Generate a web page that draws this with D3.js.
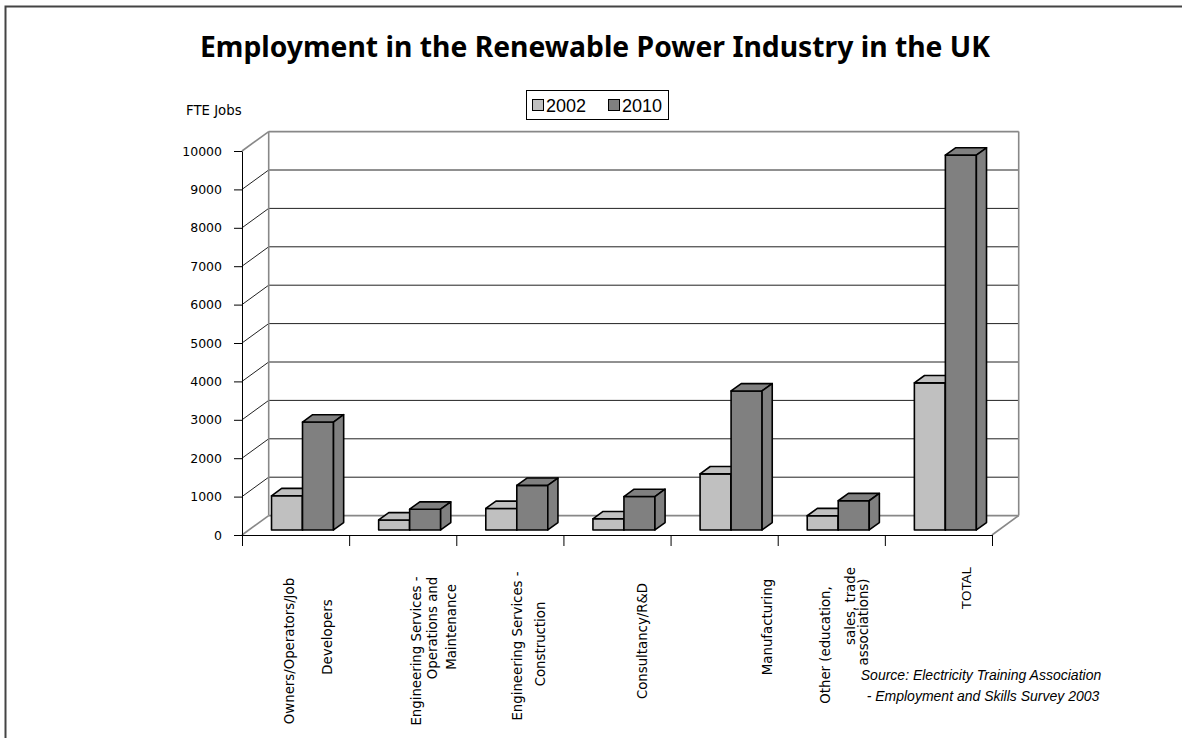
<!DOCTYPE html>
<html>
<head>
<meta charset="utf-8">
<script src="https://cdn.jsdelivr.net/npm/d3@7"></script>
<style>
  body { margin: 0; background: #fff; }
  svg { display: block; }
</style>
</head>
<body>
<svg id="chart" width="1182" height="738"></svg>
<script>
// categories (line breaks as in the original axis labels)
var categories = [
    "Owners/Operators/Job\nDevelopers",
    "Engineering Services -\nOperations and\nMaintenance",
    "Engineering Services -\nConstruction",
    "Consultancy/R&D",
    "Manufacturing",
    "Other (education,\nsales, trade\nassociations)",
    "TOTAL"
];
var seriesNames = ["2002", "2010"];
var jobs2002 = [890, 260, 560, 290, 1460, 370, 3830];
var jobs2010 = [2810, 540, 1160, 870, 3620, 760, 9760];
var yTicks = [0, 1000, 2000, 3000, 4000, 5000, 6000, 7000, 8000, 9000, 10000];

var colors = { "2002": "#c0c0c0", "2010": "#808080" };

(function drawChart() {
    var svg = d3.select("#chart");

    // plot geometry (front plane) and 3d depth offset
    var pLeft = 242, pRight = 992, pTop = 151, pBottom = 535;
    var DX = 26.7, DY = 19.4;
    var f0 = 0.26, f1 = 0.64;   // bar depth, as fraction of the floor

    var x = d3.scaleBand().domain(categories).range([pLeft, pRight]).padding(0);
    var xs = d3.scaleBand().domain(seriesNames).range([0, x.bandwidth()]).paddingInner(0).paddingOuter(0.728);
    var y = d3.scaleLinear().domain([0, 10000]).range([pBottom, pTop]);

    // outer frame
    svg.append("rect")
        .attr("x", 5.5).attr("y", 6.5)
        .attr("width", 1200).attr("height", 760)
        .attr("fill", "none").attr("stroke", "#444").attr("stroke-width", 2);

    // title
    svg.append("text")
        .attr("x", 595).attr("y", 57)
        .attr("text-anchor", "middle")
        .style("font-family", "'Noto Sans', sans-serif")
        .style("font-weight", "bold")
        .style("font-size", "28.3px")
        .text("Employment in the Renewable Power Industry in the UK");

    // y axis title
    svg.append("text")
        .attr("x", 186).attr("y", 115)
        .style("font-family", "'DejaVu Sans', sans-serif")
        .style("font-size", "13.3px")
        .text("FTE Jobs");

    var isEdge = function(d, i) { return i == 0 || i == yTicks.length - 1; };

    // back wall gridlines + left wall diagonals
    var walls = svg.append("g").attr("class", "walls");
    walls.selectAll(".grid")
        .data(yTicks)
        .enter().append("line")
        .attr("class", "grid")
        .attr("x1", pLeft + DX).attr("x2", pRight + DX)
        .attr("y1", function(d) { return y(d) - DY; })
        .attr("y2", function(d) { return y(d) - DY; })
        .attr("stroke", function(d, i) { return isEdge(d, i) ? "#888" : "#222"; })
        .attr("stroke-width", function(d, i) { return isEdge(d, i) ? 1.6 : 1; });
    walls.selectAll(".diag")
        .data(yTicks)
        .enter().append("line")
        .attr("class", "diag")
        .attr("x1", pLeft).attr("x2", pLeft + DX)
        .attr("y1", function(d) { return y(d); })
        .attr("y2", function(d) { return y(d) - DY; })
        .attr("stroke", function(d, i) { return isEdge(d, i) ? "#888" : "#222"; })
        .attr("stroke-width", function(d, i) { return isEdge(d, i) ? 1.6 : 1; });
    // back wall sides and right floor edge
    walls.append("line")
        .attr("x1", pLeft + DX).attr("x2", pLeft + DX)
        .attr("y1", y(10000) - DY).attr("y2", y(0) - DY)
        .attr("stroke", "#888").attr("stroke-width", 1.6);
    walls.append("line")
        .attr("x1", pRight + DX).attr("x2", pRight + DX)
        .attr("y1", y(10000) - DY).attr("y2", y(0) - DY)
        .attr("stroke", "#888").attr("stroke-width", 1.6);
    walls.append("line")
        .attr("x1", pRight).attr("x2", pRight + DX)
        .attr("y1", y(0)).attr("y2", y(0) - DY)
        .attr("stroke", "#888").attr("stroke-width", 1.6);

    // bars
    var bars = [];
    categories.forEach(function(c, i) {
        bars.push({ cat: c, s: "2002", v: jobs2002[i] });
        bars.push({ cat: c, s: "2010", v: jobs2010[i] });
    });

    var ddx = (f1 - f0) * DX, ddy = (f1 - f0) * DY;
    function pts(a) { return a.map(function(p) { return p.join(","); }).join(" "); }

    svg.append("g").attr("class", "bars")
        .selectAll("g")
        .data(bars)
        .enter().append("g")
        .each(function(d) {
            var g = d3.select(this);
            var x0 = x(d.cat) + xs(d.s) + f0 * DX,
                w = xs.bandwidth(),
                yt = y(d.v) - f0 * DY,
                yb = y(0) - f0 * DY;
            var style = function(sel) {
                sel.attr("fill", colors[d.s])
                   .attr("stroke", "#000")
                   .attr("stroke-width", 1.6)
                   .attr("stroke-linejoin", "round");
            };
            g.append("polygon").call(style)
                .attr("points", pts([[x0, yt], [x0 + w, yt], [x0 + w, yb], [x0, yb]]));
            g.append("polygon").call(style)
                .attr("points", pts([[x0, yt], [x0 + w, yt], [x0 + w + ddx, yt - ddy], [x0 + ddx, yt - ddy]]));
            g.append("polygon").call(style)
                .attr("points", pts([[x0 + w, yt], [x0 + w + ddx, yt - ddy], [x0 + w + ddx, yb - ddy], [x0 + w, yb]]));
        });

    // y axis
    var yAxis = svg.append("g")
        .attr("transform", "translate(" + pLeft + ",0)")
        .call(d3.axisLeft(y).tickValues(yTicks).tickSize(8).tickSizeOuter(0).tickPadding(12).tickFormat(d3.format("d")));
    yAxis.selectAll("text")
        .style("font-family", "'DejaVu Sans', sans-serif")
        .style("font-size", "12.5px")
        .attr("fill", "#000");
    yAxis.selectAll("line, path").attr("stroke", "#000");

    // x axis (category boundaries)
    var xb = d3.scaleLinear().domain([0, categories.length]).range([pLeft, pRight]);
    var xAxis = svg.append("g")
        .attr("transform", "translate(0," + pBottom + ")")
        .call(d3.axisBottom(xb).ticks(categories.length).tickSize(11).tickSizeOuter(0).tickFormat(""));
    xAxis.selectAll("line, path").attr("stroke", "#000");

    // category labels, rotated; per-line nudges [dx from band centre, vertical middle]
    var labelNudge = [
        [[-6, 651], [32, 637]],
        [[14, 651], [30, 628], [49, 627]],
        [[7, 646], [30, 644]],
        [[25, 641]],
        [[43, 627]],
        [[-6, 645], [19, 606], [32, 622]],
        [[28, 588]]
    ];
    var labels = svg.append("g").attr("class", "xlabels");
    categories.forEach(function(c, i) {
        var cx = x(c) + x.bandwidth() / 2;
        c.split("\n").forEach(function(line, k) {
            var n = labelNudge[i][k];
            labels.append("text")
                .attr("transform", "translate(" + (cx + n[0]) + "," + n[1] + ") rotate(-90)")
                .attr("text-anchor", "middle")
                .attr("dy", "0.35em")
                .style("font-family", c == "TOTAL" ? "'Liberation Sans', Arial, sans-serif" : "'DejaVu Sans', sans-serif")
                .style("font-size", c == "TOTAL" ? "13.5px" : "13.3px")
                .text(line);
        });
    });

    // legend
    var legend = svg.append("g").attr("transform", "translate(526,90)");
    legend.append("rect")
        .attr("x", 0.5).attr("y", 0.5).attr("width", 142).attr("height", 29)
        .attr("fill", "#fff").attr("stroke", "#000");
    var li = legend.selectAll(".item")
        .data(seriesNames)
        .enter().append("g")
        .attr("transform", function(d, i) { return "translate(" + (6 + i * 76) + ",0)"; });
    li.append("rect")
        .attr("x", 0.5).attr("y", 9.5).attr("width", 11).attr("height", 11)
        .attr("fill", function(d) { return colors[d]; })
        .attr("stroke", "#000");
    li.append("text")
        .attr("x", 14).attr("y", 21.5)
        .style("font-family", "'Liberation Sans', Arial, sans-serif")
        .style("font-size", "18px")
        .text(function(d) { return d; });

    // source note
    var src = svg.append("text")
        .attr("text-anchor", "middle")
        .style("font-family", "'Liberation Sans', Arial, sans-serif")
        .style("font-style", "italic")
        .style("font-size", "14px");
    src.append("tspan").attr("x", 981).attr("y", 680).text("Source: Electricity Training Association");
    src.append("tspan").attr("x", 983).attr("y", 701).text("- Employment and Skills Survey 2003");
})();
</script>
</body>
</html>
